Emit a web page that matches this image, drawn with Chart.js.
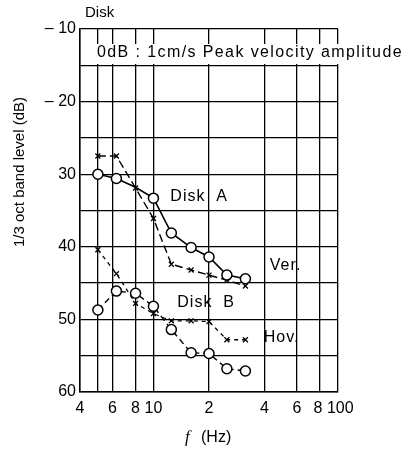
<!DOCTYPE html>
<html>
<head>
<meta charset="utf-8">
<script src="https://cdn.jsdelivr.net/npm/chart.js@4.4.1/dist/chart.umd.min.js"></script>
<style>html,body{margin:0;padding:0;background:#fff}</style>
</head>
<body>
<canvas id="c" width="404" height="452"></canvas>
<script>
// 1/3 octave band centre frequencies (Hz)
const freqs = [5, 6.3, 8, 10, 12.5, 16, 20, 25, 31.5];

// band levels in dB
const diskACircle = [-30, -30.6, -31.8, -33.3, -38.1, -40.1, -41.4, -43.9, -44.4];
const diskACross  = [-27.5, -27.5, -31.9, -36.1, -42.4, -43.2, -43.9, -44.6, -45.4];
const diskBCircle = [-48.7, -46.1, -46.4, -48.2, -51.4, -54.6, -54.7, -56.8, -57.1];
const diskBCross  = [-40.4, -43.7, -47.8, -49.2, -50.2, -50.2, -50.3, -52.8, -52.8];

const xTickValues = [4, 5, 6, 8, 10, 20, 40, 60, 80, 100];
const xTickLabels = ['4', '', '6', '8', '10', '2', '4', '6', '8 ', ' 100'];
const yTickLabels = { '-10': '– 10', '-20': '– 20', '-30': '30', '-40': '40', '-50': '50', '-60': '60' };

// in-plot labels at data coordinates [f, dB]
const notes = [
  { text: 'Disk  A', at: [17.7, -33.1] },
  { text: 'Ver.', at: [52, -42.6] },
  { text: 'Disk  B', at: [19.3, -47.7] },
  { text: 'Hov.', at: [49.5, -52.5] }
];

Chart.defaults.font.family = '"Liberation Sans", Arial, sans-serif';
Chart.defaults.color = '#000';

const pts = arr => freqs.map((f, i) => ({ x: f, y: arr[i] }));

const overlay = {
  id: 'overlay',
  beforeDatasetsDraw(chart) {
    const { ctx, chartArea: a } = chart;
    ctx.save();
    // white strip behind the header text
    ctx.fillStyle = '#fff';
    ctx.fillRect(a.left + 14, a.top + 15, 320, 20);
    ctx.fillStyle = '#000';
    ctx.font = '16px "Liberation Sans", Arial, sans-serif';
    ctx.letterSpacing = '1.4px';
    ctx.textBaseline = 'middle';
    ctx.textAlign = 'left';
    ctx.fillText('0dB : 1cm/s Peak velocity amplitude', a.left + 17, a.top + 24);
    ctx.restore();
  },
  afterDraw(chart) {
    const { ctx, scales: { x, y } } = chart;
    ctx.save();
    ctx.fillStyle = '#000';
    ctx.textBaseline = 'middle';
    ctx.textAlign = 'center';
    ctx.font = '16px "Liberation Sans", Arial, sans-serif';
    ctx.letterSpacing = '1px';
    notes.forEach(n => ctx.fillText(n.text, x.getPixelForValue(n.at[0]), y.getPixelForValue(n.at[1])));
    ctx.letterSpacing = '0px';
    // top-left caption
    ctx.textAlign = 'left';
    ctx.font = '15px "Liberation Sans", Arial, sans-serif';
    ctx.fillText('Disk', 85, 13);
    // y title
    ctx.font = '15px "Liberation Sans", Arial, sans-serif';
    ctx.save();
    ctx.translate(20, 172);
    ctx.rotate(-Math.PI / 2);
    ctx.textAlign = 'center';
    ctx.fillText('1/3 oct band level (dB)', 0, 0);
    ctx.restore();
    // x title
    ctx.font = 'italic 17px "Liberation Serif", serif';
    ctx.fillText('f', 185, 438);
    ctx.font = '16px "Liberation Sans", Arial, sans-serif';
    ctx.fillText('(Hz)', 201, 438);
    ctx.restore();
  }
};

new Chart(document.getElementById('c').getContext('2d'), {
  type: 'line',
  data: {
    datasets: [
      { label: 'Disk A o', data: pts(diskACircle), borderColor: '#000', borderWidth: 1.6,
        pointStyle: 'circle', pointRadius: [5, 5, 0, 5, 5, 5, 5, 5, 5], pointBackgroundColor: '#fff',
        pointBorderColor: '#000', pointBorderWidth: 1.5 },
      { label: 'Disk A x', data: pts(diskACross), borderColor: '#000', borderWidth: 1.4, borderDash: [8, 4],
        pointStyle: 'crossRot', pointRadius: 3.5, pointBorderColor: '#000', pointBorderWidth: 1.3 },
      { label: 'Disk B o', data: pts(diskBCircle), borderColor: '#000', borderWidth: 1.4, borderDash: [6, 4],
        pointStyle: 'circle', pointRadius: 5, pointBackgroundColor: '#fff',
        pointBorderColor: '#000', pointBorderWidth: 1.5 },
      { label: 'Disk B x', data: pts(diskBCross), borderColor: '#000', borderWidth: 1.3, borderDash: [4, 4],
        pointStyle: 'crossRot', pointRadius: 3.5, pointBorderColor: '#000', pointBorderWidth: 1.3 }
    ]
  },
  options: {
    responsive: false,
    animation: false,
    layout: { padding: { top: 29, right: 66, left: 0, bottom: 0 } },
    plugins: { legend: { display: false }, tooltip: { enabled: false } },
    scales: {
      x: {
        type: 'logarithmic', min: 4, max: 100,
        afterBuildTicks: s => { s.ticks = xTickValues.map(v => ({ value: v })); },
        afterFit: s => { s.height = 60; },
        ticks: { autoSkip: false, maxRotation: 0, padding: 7, font: { size: 16 },
          callback: (v, i) => xTickLabels[i] },
        grid: { color: '#000', lineWidth: 1.3, drawTicks: false },
        border: { color: '#000', width: 1.5 }
      },
      y: {
        type: 'linear', min: -60, max: -10,
        ticks: { stepSize: 5, padding: 4, font: { size: 16 },
          callback: v => yTickLabels[String(v)] ?? '' },
        afterFit: s => { s.width = 80; },
        grid: { color: '#000', lineWidth: 1.3, drawTicks: false },
        border: { color: '#000', width: 1.5 }
      }
    }
  },
  plugins: [overlay]
});
</script>
</body>
</html>
